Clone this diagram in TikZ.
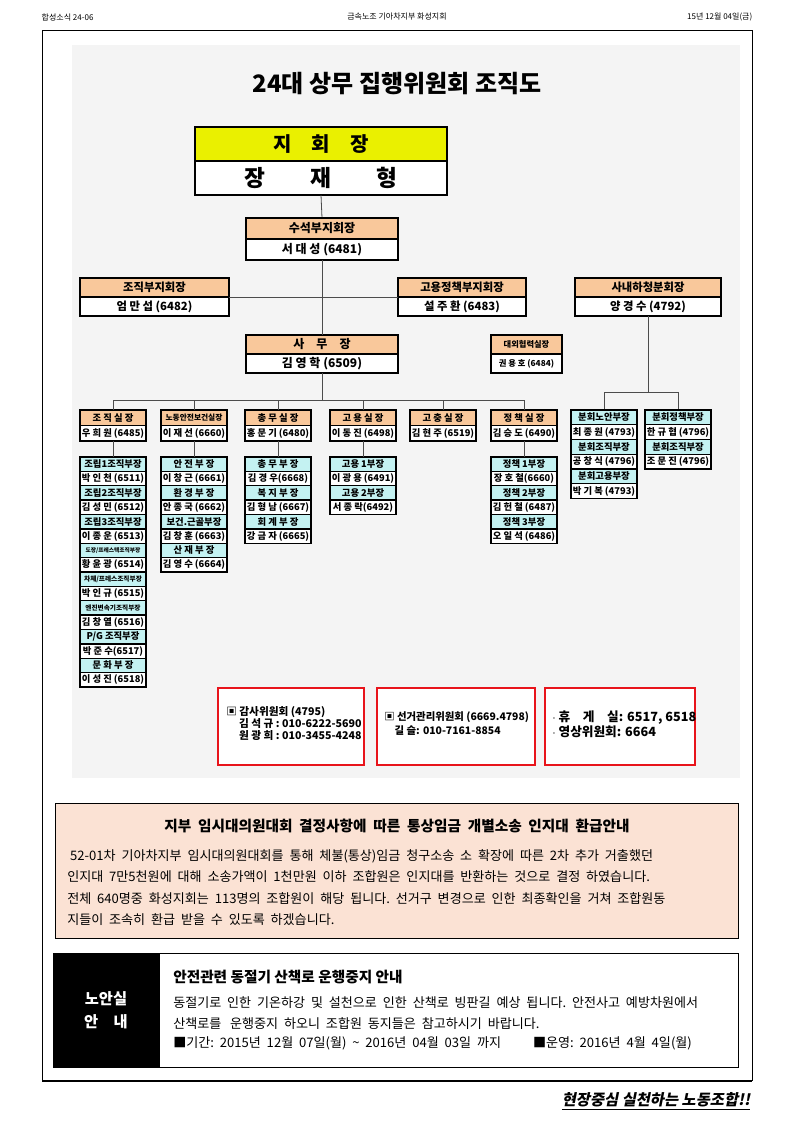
\documentclass[tikz,border=0pt]{standalone}
\usepackage{fontspec}
\setmainfont{Noto Sans CJK KR}
\newfontfamily\slantfont[FakeSlant=0.2]{Noto Sans CJK KR}
\usetikzlibrary{positioning}
\definecolor{headorange}{HTML}{F9C89B}
\definecolor{chiefyellow}{HTML}{EAF000}
\definecolor{subcyan}{HTML}{C4F2F2}
\definecolor{chartgray}{HTML}{F4F4F4}
\definecolor{notepink}{HTML}{FBE2D4}
\definecolor{framered}{HTML}{E8141B}
\tikzset{
  hd/.style={draw, line width=1.1pt, outer sep=0pt, inner sep=0pt, font=\bfseries\fontsize{7}{8}\selectfont},
  pr/.style={draw, line width=1.1pt, outer sep=0pt, inner sep=0pt, fill=white, font=\bfseries\fontsize{7}{8}\selectfont},
  link/.style={line width=0.6pt, gray!60!black},
  redbox/.style={draw=framered, line width=1.6pt, fill=white},
  txt/.style={anchor=west, inner sep=0pt, font=\fontsize{9.8}{10}\selectfont},
}
% box with head and person: name, x, y, width, half height, colour, head, person
\newcommand\orgbox[8]{%
  \node[hd, fill=#6, minimum width=#4*0.75pt, minimum height=#5*0.75pt, anchor=north west] (#1h) at (#2,#3) {#7};
  \node[pr, minimum width=#4*0.75pt, minimum height=#5*0.75pt, anchor=north] (#1p) at (#1h.south) {#8};}
\begin{document}
\begin{tikzpicture}[x=0.75pt, y=-0.75pt]
\useasboundingbox (0,0) rectangle (794,1123);
% page header
\node[anchor=west, font=\fontsize{6}{7}\selectfont] (hleft) at (37,17) {합성소식 24-06};
\node[font=\fontsize{6}{7}\selectfont] (hmid) at (397,17) {금속노조 기아차지부 화성지회};
\node[anchor=east, font=\fontsize{6}{7}\selectfont] (hright) at (757,17) {15년 12월 04일(금)};
\draw[line width=0.7pt] (42,1081) -- (42,30) -- (752,30) -- (752,1081);
\draw[line width=0.9pt] (42,1081) -- (752,1081);
\fill[chartgray] (72,45) rectangle (740,778);
\node[font=\bfseries\fontsize{18}{20}\selectfont] (title) at (397,84) {24대 상무 집행위원회 조직도};

% upper levels
\orgbox{chief}{195}{127}{252}{34}{chiefyellow}{\fontsize{15}{16}\selectfont 지\quad 회\quad 장}{\fontsize{17}{18}\selectfont 장\qquad 재\qquad 형}
\draw[link] (chiefp.south) -- (322,218);
\orgbox{first}{246}{218}{152}{21}{headorange}{\fontsize{9}{10}\selectfont 수석부지회장}{\fontsize{9}{10}\selectfont 서 대 성 (6481)}
\orgbox{org}{80}{278}{149}{19}{headorange}{\fontsize{8.5}{10}\selectfont 조직부지회장}{\fontsize{8.5}{10}\selectfont 엄 만 섭 (6482)}
\orgbox{emp}{398}{278}{128}{19}{headorange}{\fontsize{8.5}{10}\selectfont 고용정책부지회장}{\fontsize{8.5}{10}\selectfont 설 주 환 (6483)}
\orgbox{sub}{575}{278}{146}{19}{headorange}{\fontsize{8.5}{10}\selectfont 사내하청분회장}{\fontsize{8.5}{10}\selectfont 양 경 수 (4792)}
\draw[link] (orgh.south east) -- (emph.south west);
\orgbox{sec}{246}{335}{152}{19}{headorange}{\fontsize{9}{10}\selectfont 사\quad 무\quad 장}{\fontsize{9}{10}\selectfont 김 영 학 (6509)}
\draw[link] (firstp.south) -- (sech.north);
\orgbox{ext}{491}{335}{71}{19}{headorange}{\fontsize{6.2}{7}\selectfont 대외협력실장}{\fontsize{6.2}{7}\selectfont 권 용 호 (6484)}

% department heads
\draw[link] (secp.south) -- (322,400);
\draw[link] (113,400) -- (524,400);
\foreach \nm/\x/\t/\p in {jo/80/조\ 직\ 실\ 장/우 희 원 (6485), no/161/{\fontsize{5.8}{6}\selectfont 노동안전보건실장}/이 재 선 (6660), ch/245/총\ 무\ 실\ 장/홍 문 기 (6480), go/330/고\ 용\ 실\ 장/이 동 진 (6498), gc/410/고\ 충\ 실\ 장/김 현 주 (6519), jc/491/정\ 책\ 실\ 장/김 승 도 (6490)}{
  \orgbox{\nm}{\x}{410}{66}{15.5}{headorange}{\t}{\p}
  \draw[link] (\nm h.north) -- ++(0,-10);
}
\draw[link] (subp.south) -- (648,392);
\draw[link] (604,410) -- (604,392) -- (678,392) -- (678,410);

% sub columns
\foreach \t/\p [count=\i, evaluate=\i as \yy using 457+(\i-1)*28.75] in {조립1조직부장/박 인 천 (6511), 조립2조직부장/김 성 민 (6512), 조립3조직부장/이 종 운 (6513), {\fontsize{4.3}{5}\selectfont 도장/프레스텍조직부장}/황 윤 광 (6514), {\fontsize{5}{5}\selectfont 차체/프레스조직부장}/박 인 규 (6515), {\fontsize{5}{5}\selectfont 엔진변속기조직부장}/김 창 열 (6516), {P/G 조직부장}/박 준 수(6517), 문 화 부 장/이 성 진 (6518)}{
  \orgbox{jo\i}{80}{\yy}{66}{14.375}{subcyan}{\t}{\p}}
\foreach \t/\p [count=\i, evaluate=\i as \yy using 457+(\i-1)*28.75] in {안 전 부 장/이 창 근 (6661), 환 경 부 장/안 종 국 (6662), 보건.근골부장/김 창 훈 (6663), 산 재 부 장/김 영 수 (6664)}{
  \orgbox{no\i}{161}{\yy}{66}{14.375}{subcyan}{\t}{\p}}
\foreach \t/\p [count=\i, evaluate=\i as \yy using 457+(\i-1)*28.75] in {총 무 부 장/김 경 우(6668), 복 지 부 장/김 형 남 (6667), 회 계 부 장/강 금 자 (6665)}{
  \orgbox{ch\i}{245}{\yy}{66}{14.375}{subcyan}{\t}{\p}}
\foreach \t/\p [count=\i, evaluate=\i as \yy using 457+(\i-1)*28.75] in {고용 1부장/이 광 용 (6491), 고용 2부장/서 종 락(6492)}{
  \orgbox{go\i}{330}{\yy}{66}{14.375}{subcyan}{\t}{\p}}
\foreach \t/\p [count=\i, evaluate=\i as \yy using 457+(\i-1)*28.75] in {정책 1부장/장 호 철(6660), 정책 2부장/김 헌 철 (6487), 정책 3부장/오 일 석 (6486)}{
  \orgbox{jc\i}{491}{\yy}{66}{14.375}{subcyan}{\t}{\p}}
\foreach \t/\p [count=\i, evaluate=\i as \yy using 410+(\i-1)*29.5] in {분회노안부장/최 종 원 (4793), 분회조직부장/공 창 식 (4796), 분회고용부장/박 기 복 (4793)}{
  \orgbox{bn\i}{571}{\yy}{66}{14.75}{subcyan}{\t}{\p}}
\foreach \t/\p [count=\i, evaluate=\i as \yy using 410+(\i-1)*29.5] in {분회정책부장/한 규 협 (4796), 분회조직부장/조 문 진 (4796)}{
  \orgbox{bj\i}{645}{\yy}{66}{14.75}{subcyan}{\t}{\p}}
\foreach \nm in {jo,no,ch,go,jc}{\draw[link] (\nm p.south) -- (\nm 1h.north);}

% committees
\draw[redbox] (218,688) rectangle (364,765);
\draw[redbox] (377,688) rectangle (535,765);
\draw[redbox] (545,688) rectangle (695,765);
\node[anchor=north west, align=left, inner sep=0pt, font=\bfseries\fontsize{8}{10}\selectfont] (audit) at (226,706) {▣ 감사위원회 (4795)\\[-1pt]\hspace*{1.2em}김 석 규 :\ 010-6222-5690\\[-1pt]\hspace*{1.2em}원 광 희 :\ 010-3455-4248};
\node[anchor=north west, align=left, inner sep=0pt, font=\bfseries\fontsize{7.8}{11}\selectfont] (elect) at (384,711) {▣ 선거관리위원회 (6669.4798)\\\hspace*{1em}길 슬: 010-7161-8854};
\node[anchor=north west, align=left, inner sep=0pt, font=\bfseries\fontsize{9.5}{11}\selectfont] (rest) at (552,711) {$\cdot$ 휴\quad 게\quad 실: 6517, 6518\\$\cdot$ 영상위원회: 6664};

% refund notice
\draw[fill=notepink, line width=0.6pt] (55,803) rectangle (738,938);
\node[font=\bfseries\fontsize{11}{12}\selectfont] (ntitle) at (397,826) {지부\ \ 임시대의원대회\ \ 결정사항에\ \ 따른\ \ 통상임금\ \ 개별소송\ \ 인지대\ \ 환급안내};
\node[txt] (n1) at (67,856) {\ 52-01차\ \ 기아차지부\ \ 임시대의원대회를\ \ 통해\ \ 체불(통상)임금\ \ 청구소송\ \ 소\ \ 확장에\ \ 따른\ \ 2차\ \ 추가\ \ 거출했던};
\node[txt] (n2) at (67,877) {인지대\ \ 7만5천원에\ \ 대해\ \ 소송가액이\ \ 1천만원\ \ 이하\ \ 조합원은\ \ 인지대를\ \ 반환하는\ \ 것으로\ \ 결정\ \ 하였습니다.};
\node[txt] (n3) at (67,899) {전체\ \ 640명중\ \ 화성지회는\ \ 113명의\ \ 조합원이\ \ 해당\ \ 됩니다.\ \ 선거구\ \ 변경으로\ \ 인한\ \ 최종확인을\ \ 거쳐\ \ 조합원동};
\node[txt] (n4) at (67,920) {지들이\ \ 조속히\ \ 환급\ \ 받을\ \ 수\ \ 있도록\ \ 하겠습니다.};

% safety notice
\draw[line width=0.6pt] (53,953) rectangle (738,1067);
\fill (53,953) rectangle (160,1067);
\node[text=white, align=center, font=\bfseries\fontsize{11.5}{17}\selectfont] (nlab) at (106,1010) {노안실\\안\quad 내};
\node[anchor=west, inner sep=0pt, font=\bfseries\fontsize{11}{12}\selectfont] (stitle) at (173,977) {안전관련\ 동절기\ 산책로\ 운행중지\ 안내};
\node[txt] (s1) at (173,1003) {동절기로\ \ 인한\ \ 기온하강\ \ 및\ \ 설천으로\ \ 인한\ \ 산책로\ \ 빙판길\ \ 예상\ \ 됩니다.\ \ 안전사고\ \ 예방차원에서};
\node[txt] (s2) at (173,1024) {산책로를\ \ \ 운행중지\ \ 하오니\ \ 조합원\ \ 동지들은\ \ 참고하시기\ \ 바랍니다.};
\node[txt] (s3) at (173,1043) {■기간:\ \ 2015년\ \ 12월\ \ 07일(월)\ \ \textasciitilde\ \ 2016년\ \ 04월\ \ 03일\ \ 까지\qquad\ \ ■운영:\ \ 2016년\ \ 4월\ \ 4일(월)};

% slogan
\node[anchor=east, font=\slantfont\bfseries\fontsize{11.5}{12}\selectfont] (slogan) at (755,1101) {\underline{현장중심\ 실천하는\ 노동조합!!}};
\end{tikzpicture}
\end{document}
